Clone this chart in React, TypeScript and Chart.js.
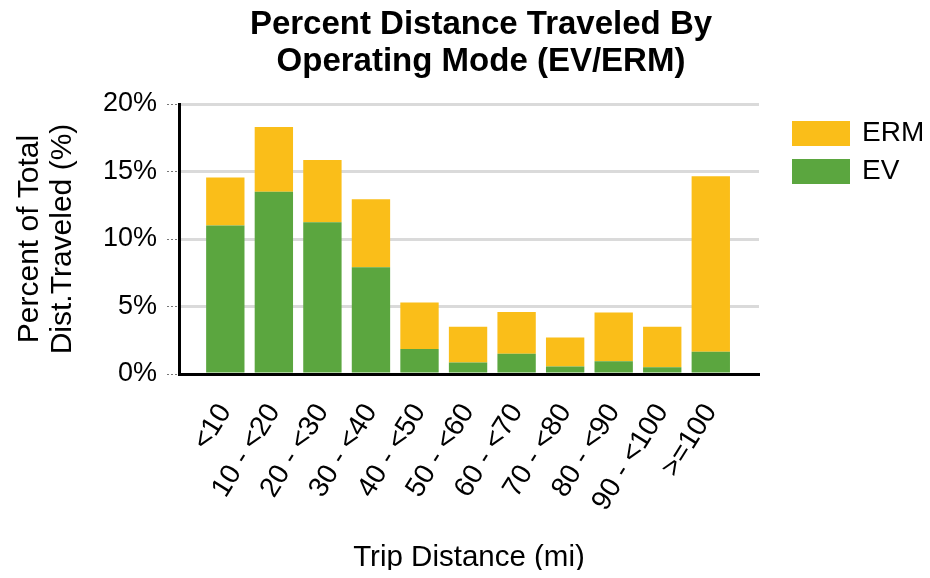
import React, { useEffect, useRef } from 'react';
import { Chart, registerables } from 'chart.js';

Chart.register(...registerables);

const FONT = "'Liberation Sans', Arial, Helvetica, sans-serif";

const titleLines = ['Percent Distance Traveled By', 'Operating Mode (EV/ERM)'];
const xTitle = 'Trip Distance (mi)';
const yTitleLines = ['Percent of Total', 'Dist.Traveled (%)'];

const categories = ['<10', '10 - <20', '20 - <30', '30 - <40', '40 - <50', '50 - <60', '60 - <70', '70 - <80', '80 - <90', '90 - <100', '>=100'];
const evValues = [11.0, 13.5, 11.25, 7.9, 1.85, 0.85, 1.5, 0.55, 0.95, 0.5, 1.65];
const ermValues = [3.55, 4.8, 4.6, 5.05, 3.45, 2.65, 3.1, 2.15, 3.6, 3.0, 13.0];
const yTickValues = [0, 5, 10, 15, 20];

const GREEN = '#5BA63F';
const ORANGE = '#FABE19';

const overlayPlugin = {
  id: 'overlay',
  afterDraw(chart: any) {
    const ctx = chart.ctx;
    const area = chart.chartArea;
    ctx.save();
    // title
    ctx.fillStyle = '#000';
    ctx.font = `bold 33px ${FONT}`;
    ctx.textAlign = 'center';
    ctx.textBaseline = 'middle';
    titleLines.forEach((t, i) => ctx.fillText(t, 473, 17 + i * 37));
    // legend (reverse order: ERM on top)
    const items = [...chart.data.datasets].reverse();
    items.forEach((ds: any, i: number) => {
      const x = area.right + 33;
      const y = area.top + 17 + i * 38;
      ctx.fillStyle = ds.backgroundColor;
      ctx.fillRect(x, y, 58, 25);
      ctx.fillStyle = '#000';
      ctx.font = `28px ${FONT}`;
      ctx.textAlign = 'left';
      ctx.textBaseline = 'middle';
      ctx.fillText(ds.label, x + 70, y + 12.5);
    });
    ctx.restore();
  },
};

export default function App() {
  const ref = useRef<HTMLCanvasElement>(null);
  useEffect(() => {
    const chart = new Chart(ref.current as HTMLCanvasElement, {
      type: 'bar',
      data: {
        datasets: [
          {
            label: 'EV',
            data: evValues.map((y, i) => ({ x: i, y })) as any,
            backgroundColor: GREEN,
            barPercentage: 0.79,
            categoryPercentage: 1,
          },
          {
            label: 'ERM',
            data: ermValues.map((y, i) => ({ x: i, y })) as any,
            backgroundColor: ORANGE,
            barPercentage: 0.79,
            categoryPercentage: 1,
          },
        ],
      },
      options: {
        animation: false,
        responsive: false,
        maintainAspectRatio: false,
        layout: { padding: { top: 96, right: 163, left: 0, bottom: 0 } },
        plugins: {
          legend: { display: false },
          title: { display: false },
          tooltip: { enabled: false },
        },
        scales: {
          x: {
            type: 'linear',
            stacked: true,
            min: -0.954,
            max: 10.993,
            offset: false,
            afterBuildTicks: (s: any) => {
              s.ticks = categories.map((_, i) => ({ value: i }));
            },
            afterFit: (s: any) => {
              s.height = 196;
            },
            grid: { display: false },
            border: { display: true, color: '#000', width: 3 },
            ticks: {
              autoSkip: false,
              minRotation: 58,
              maxRotation: 58,
              padding: 16,
              color: '#000',
              font: { family: FONT, size: 28 },
              callback: (v: any) => categories[v] ?? '',
            },
            title: {
              display: true,
              text: xTitle,
              color: '#000',
              font: { family: FONT, size: 29.5, lineHeight: 0.85 },
              padding: 0,
            },
          },
          y: {
            stacked: true,
            min: 0,
            max: 20,
            afterBuildTicks: (s: any) => {
              s.ticks = yTickValues.map((v) => ({ value: v }));
            },
            afterFit: (s: any) => {
              s.width = 171;
            },
            grid: {
              color: '#dadada',
              lineWidth: 3,
              tickColor: '#777',
              tickWidth: 1,
              tickLength: 12,
              tickBorderDash: [2, 2],
            },
            border: { color: '#000', width: 3 },
            ticks: {
              padding: 10,
              color: '#000',
              font: { family: FONT, size: 27 },
              callback: (v: any) => v + '%',
            },
            title: {
              display: true,
              text: yTitleLines,
              color: '#000',
              font: { family: FONT, size: 30, lineHeight: 1.1 },
              padding: { top: 5, bottom: 0 },
            },
          },
        },
      },
      plugins: [overlayPlugin],
    });
    return () => chart.destroy();
  }, []);
  return (
    <div style={{ width: 914, height: 562 }}>
      <canvas ref={ref} width={914} height={562} style={{ display: 'block', width: 914, height: 562 }} />
    </div>
  );
}
